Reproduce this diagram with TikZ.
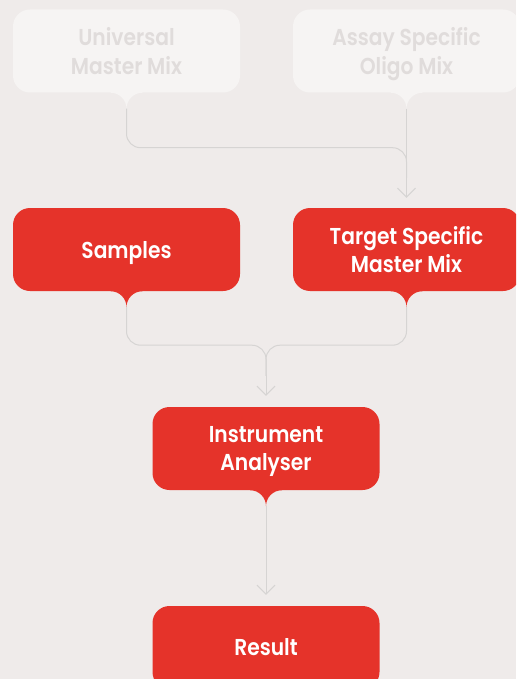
\documentclass[tikz,border=0pt]{standalone}
\usepackage{fontspec}
\setmainfont{Poppins}[FakeStretch=0.86, BoldFont={Poppins SemiBold}, BoldFeatures={FakeStretch=0.88}]
\usetikzlibrary{arrows.meta}
\definecolor{bgc}{HTML}{EFEBEA}
\definecolor{redc}{HTML}{E5332A}
\definecolor{fadec}{HTML}{F6F4F3}
\definecolor{fadetext}{HTML}{E0DCDB}
\definecolor{linec}{HTML}{D6D4D3}
\tikzset{
  stepbox/.style={rounded corners=17pt, minimum width=227pt, minimum height=83pt,
    inner sep=0pt, align=center, font=\fontsize{23}{28.5}\selectfont\bfseries},
  redbox/.style={stepbox, fill=redc, text=white},
  fadebox/.style={stepbox, fill=fadec, text=fadetext},
  conn/.style={draw=linec, line width=1pt, rounded corners=14pt},
  arr/.style={draw=linec, line width=1pt, sharp corners, -{Straight Barb[length=9pt,width=18pt,line width=1pt]}},
}
\newcommand{\tail}[2]{% node, colour
  \fill[#2] ([xshift=-16pt,yshift=1pt]#1.south) -- ([xshift=-16pt]#1.south)
    arc[start angle=90,end angle=0,radius=16pt]
    arc[start angle=180,end angle=90,radius=16pt]
    -- ([xshift=16pt,yshift=1pt]#1.south) -- cycle;}
\begin{document}
\begin{tikzpicture}[x=1pt,y=1pt]
\useasboundingbox (0,0) rectangle (516,-679);
\clip (0,0) rectangle (516,-679);
\fill[bgc] (0,0) rectangle (516,-679);

\node[fadebox] (umm) at (126.5,-51) {Universal\\Master Mix};
\node[fadebox, text depth=0pt] (aso) at (406.5,-51) {Assay Specific\\Oligo Mix};
\node[redbox, text depth=0pt] (smp) at (126.5,-249.5) {Samples};
\node[redbox] (tsm) at (406.5,-249.5) {Target Specific\\Master Mix};
\node[redbox, text depth=0pt] (ins) at (266,-448.5) {Instrument\\Analyser};
\node[redbox] (res) at (266,-647.5) {Result};

\tail{umm}{fadec}
\tail{aso}{fadec}
\tail{smp}{redc}
\tail{tsm}{redc}
\tail{ins}{redc}

\coordinate (ummt) at ([yshift=-16pt]umm.south);
\coordinate (asot) at ([yshift=-16pt]aso.south);
\coordinate (smpt) at ([yshift=-16pt]smp.south);
\coordinate (tsmt) at ([yshift=-16pt]tsm.south);
\coordinate (inst) at ([yshift=-16pt]ins.south);
\coordinate (a1) at ([yshift=10pt]tsm.north);
\coordinate (a2) at ([yshift=11pt]ins.north);
\coordinate (a3) at ([yshift=11pt]res.north);

\draw[conn] (ummt) -- ++(0,-39) -| ([yshift=20pt]a1);
\draw[arr] (asot) -- (a1);
\draw[conn] (smpt) -- ++(0,-38) -| ([yshift=20pt]a2);
\draw[conn] (tsmt) -- ++(0,-38) -| ([yshift=20pt]a2);
\draw[arr] ([yshift=21pt]a2) -- (a2);
\draw[arr] (inst) -- (a3);
\end{tikzpicture}
\end{document}
